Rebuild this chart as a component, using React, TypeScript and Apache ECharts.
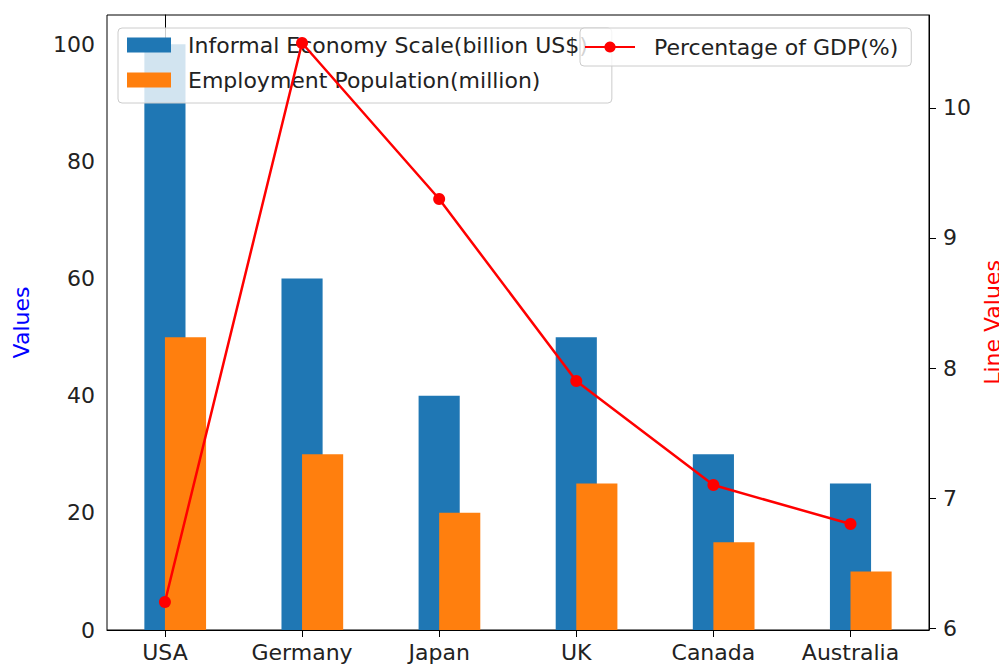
import React, { useEffect, useRef } from "react";
import * as echarts from "echarts";

const countries = ["USA", "Germany", "Japan", "UK", "Canada", "Australia"];
const informalScale = [100, 60, 40, 50, 30, 25];
const employment = [50, 30, 20, 25, 15, 10];
const gdpShare = [6.2, 10.5, 9.3, 7.9, 7.1, 6.8];
const leftTicks = [0, 20, 40, 60, 80, 100];
const rightTicks = [6, 7, 8, 9, 10];

const FONT = "DejaVu Sans";
const FS = 22;
const BAR_W = 0.3;

function barRenderer(offset: number, color: string) {
  return (params: any, api: any) => {
    const x = api.value(0);
    const y = api.value(1);
    const p0 = api.coord([x + offset - BAR_W / 2, y]);
    const p1 = api.coord([x + offset + BAR_W / 2, 0]);
    return {
      type: "rect",
      shape: { x: p0[0], y: p0[1], width: p1[0] - p0[0], height: p1[1] - p0[1] },
      style: { fill: color },
    };
  };
}

export default function App() {
  const ref = useRef<HTMLDivElement>(null);

  useEffect(() => {
    if (!ref.current) return;
    document.body.style.margin = "0";
    document.documentElement.style.overflow = "hidden";
    document.body.style.overflow = "hidden";
    const chart = echarts.init(ref.current, null, { renderer: "svg", width: 999, height: 667 });
    const textStyle = { fontFamily: FONT, fontSize: FS, color: "#222" };

    chart.setOption({
      animation: false,
      backgroundColor: "#fff",
      textStyle: { fontFamily: FONT },
      grid: {
        left: 107,
        right: 70,
        top: 15,
        bottom: 37,
        outerBoundsMode: "none",
        containLabel: false,
        show: true,
        borderColor: "#000",
        borderWidth: 1,
        backgroundColor: "transparent",
      },
      xAxis: {
        type: "value",
        min: -0.4225,
        max: 5.5725,
        splitLine: { show: false },
        axisLine: { lineStyle: { color: "#000", width: 1 } },
        axisTick: { customValues: countries.map((_, i) => i), length: 7, lineStyle: { color: "#000" } },
        axisLabel: {
          customValues: countries.map((_, i) => i),
          formatter: (v: number) => countries[Math.round(v)] ?? "",
          margin: 11,
          ...textStyle,
        },
      },
      yAxis: [
        {
          type: "value",
          min: 0,
          max: 105,
          name: "Values",
          nameLocation: "middle",
          nameRotate: 90,
          nameGap: 75,
          nameTextStyle: { fontFamily: FONT, fontSize: FS, color: "blue" },
          splitLine: { show: false },
          axisLine: { show: true, lineStyle: { color: "#000" } },
          axisTick: { show: true, customValues: leftTicks, length: 7, lineStyle: { color: "#000" } },
          axisLabel: { customValues: leftTicks, margin: 12, ...textStyle },
        },
        {
          type: "value",
          min: 5.985,
          max: 10.715,
          position: "right",
          name: "Line Values",
          nameLocation: "middle",
          nameRotate: 90,
          nameGap: 52,
          nameTextStyle: { fontFamily: FONT, fontSize: FS, color: "red" },
          splitLine: { show: false },
          axisLine: { show: true, lineStyle: { color: "#000" } },
          axisTick: { show: true, customValues: rightTicks, length: 7, lineStyle: { color: "#000" } },
          axisLabel: { customValues: rightTicks, margin: 14, ...textStyle },
        },
      ],
      legend: [
        {
          data: ["Informal Economy Scale(billion US$)", "Employment Population(million)"],
          orient: "vertical",
          left: 118,
          top: 28,
          z: 2,
          icon: "rect",
          itemWidth: 44,
          itemHeight: 15,
          itemGap: 13,
          padding: [6, 24, 12, 9],
          backgroundColor: "rgba(255,255,255,0.8)",
          borderColor: "#ccc",
          borderWidth: 1,
          borderRadius: 4,
          textStyle: { ...textStyle, padding: [0, 0, 0, 12] },
        },
        {
          data: ["Percentage of GDP(%)"],
          left: 580,
          top: 28,
          z: 4,
          itemWidth: 50,
          itemHeight: 14,
          padding: [8, 13, 8, 4],
          backgroundColor: "rgba(255,255,255,0.8)",
          borderColor: "#ccc",
          borderWidth: 1,
          borderRadius: 4,
          textStyle: { ...textStyle, padding: [0, 0, 0, 14] },
        },
      ],
      series: [
        {
          name: "Informal Economy Scale(billion US$)",
          type: "custom",
          z: 1,
          itemStyle: { color: "#1f77b4" },
          renderItem: barRenderer(0, "#1f77b4"),
          encode: { x: 0, y: 1 },
          data: informalScale.map((v, i) => [i, v]),
        },
        {
          name: "Employment Population(million)",
          type: "custom",
          z: 1,
          itemStyle: { color: "#ff7f0e" },
          renderItem: barRenderer(0.15, "#ff7f0e"),
          encode: { x: 0, y: 1 },
          data: employment.map((v, i) => [i, v]),
        },
        {
          name: "Percentage of GDP(%)",
          type: "line",
          yAxisIndex: 1,
          z: 3,
          symbol: "circle",
          symbolSize: 12,
          lineStyle: { color: "red", width: 2.5 },
          itemStyle: { color: "red" },
          data: gdpShare.map((v, i) => [i, v]),
        },
      ],
    });

    return () => chart.dispose();
  }, []);

  return <div ref={ref} style={{ width: 999, height: 667 }} />;
}
